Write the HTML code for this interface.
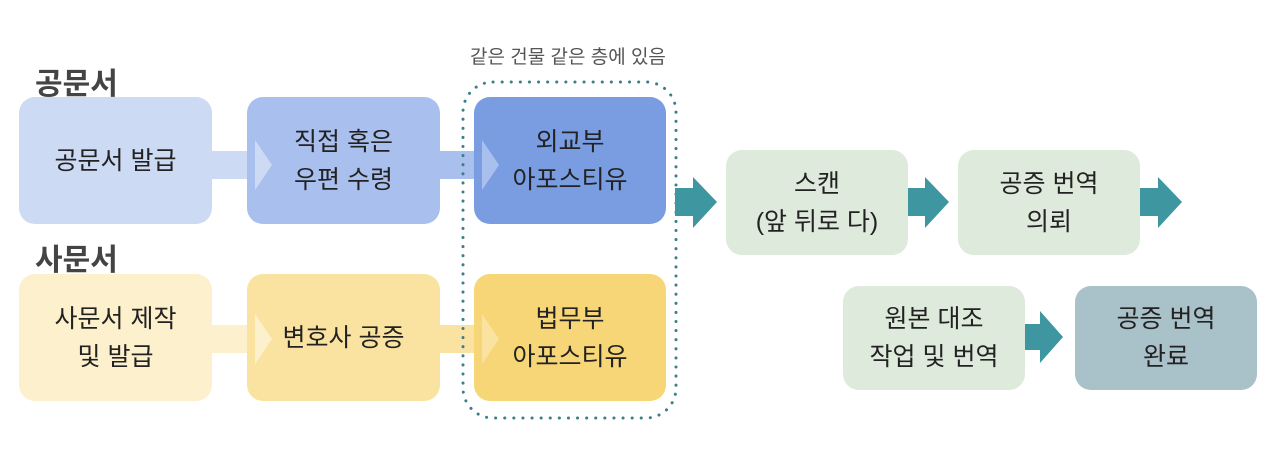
<!DOCTYPE html>
<html><head><meta charset="utf-8"><style>
body{margin:0;width:1280px;height:457px;background:#fff;position:relative;overflow:hidden;font-family:"Liberation Sans","Noto Sans CJK KR",sans-serif;color:#222}
.b{position:absolute;border-radius:16px;display:flex;align-items:center;justify-content:center;text-align:center;font-size:25px;line-height:38px}
.h{position:absolute;font-size:30px;font-weight:bold;color:#444}
svg{position:absolute;left:0;top:0}
</style></head><body>
<svg width="1280" height="457">
<polygon points="205,151 247,151 247,140 272,165 247,190 247,179 205,179" fill="#cddaf4"/>
<polygon points="435,151 474,151 474,140 499,165 474,190 474,179 435,179" fill="#a9bfee"/>
<polygon points="205,325 247,325 247,314 272,339 247,364 247,353 205,353" fill="#fdf0cc"/>
<polygon points="435,325 474,325 474,314 499,339 474,364 474,353 435,353" fill="#fae3a1"/>
</svg>
<div class="h" style="left:35px;top:59px">공문서</div>
<div class="h" style="left:35px;top:235px">사문서</div>
<div style="position:absolute;left:470px;top:42px;font-size:19px;color:#555">같은 건물 같은 층에 있음</div>
<div class="b" style="left:19px;top:97px;width:193px;height:127px;background:#cddaf4">공문서 발급</div>
<div class="b" style="left:247px;top:97px;width:193px;height:127px;background:#a9bfee">직접 혹은<br>우편 수령</div>
<div class="b" style="left:474px;top:97px;width:192px;height:127px;background:#7a9de2">외교부<br>아포스티유</div>
<div class="b" style="left:19px;top:274px;width:193px;height:127px;background:#fdf0cc">사문서 제작<br>및 발급</div>
<div class="b" style="left:247px;top:274px;width:193px;height:127px;background:#fae3a1">변호사 공증</div>
<div class="b" style="left:474px;top:274px;width:192px;height:127px;background:#f7d677">법무부<br>아포스티유</div>
<svg width="1280" height="457">
<polygon points="255,140 272,165 255,190" fill="#cddaf4"/>
<polygon points="482,140 499,165 482,190" fill="#a9bfee"/>
<polygon points="255,314 272,339 255,364" fill="#fdf0cc"/>
<polygon points="482,314 499,339 482,364" fill="#fae3a1"/>
<rect x="463" y="82" width="213" height="336" rx="30" fill="none" stroke="#3a7f8a" stroke-width="3" stroke-dasharray="0.1 9" stroke-linecap="round"/>
<polygon points="675,188 693,188 693,177 717,202 693,228 693,216 675,216" fill="#3e97a0"/>
<polygon points="907,188 925,188 925,177 949,202 925,228 925,216 907,216" fill="#3e97a0"/>
<polygon points="1140,188 1158,188 1158,177 1182,202 1158,228 1158,216 1140,216" fill="#3e97a0"/>
<polygon points="1024,324 1040,324 1040,311 1063,337 1040,363 1040,350 1024,350" fill="#3e97a0"/>
</svg>
<div class="b" style="left:726px;top:150px;width:182px;height:105px;background:#deeadb">스캔<br>(앞 뒤로 다)</div>
<div class="b" style="left:958px;top:150px;width:182px;height:105px;background:#deeadb">공증 번역<br>의뢰</div>
<div class="b" style="left:843px;top:286px;width:182px;height:104px;background:#deeadb">원본 대조<br>작업 및 번역</div>
<div class="b" style="left:1075px;top:286px;width:182px;height:104px;background:#a9c1c8">공증 번역<br>완료</div>
</body></html>
